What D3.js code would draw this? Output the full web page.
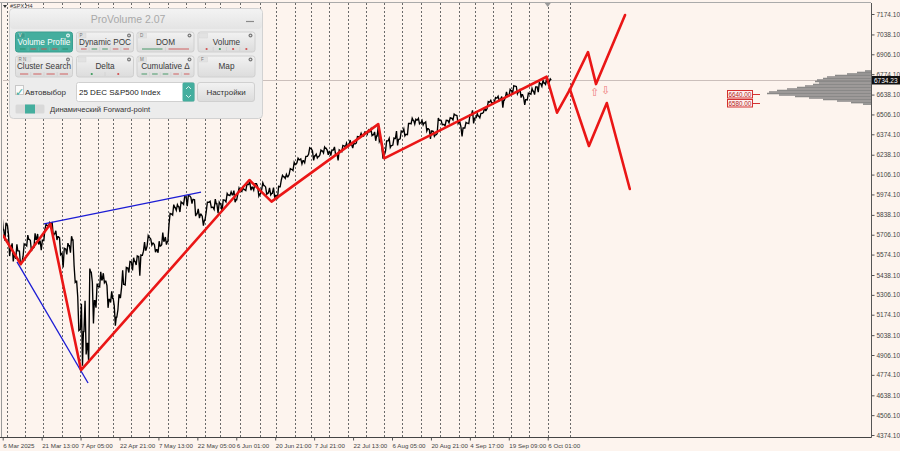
<!DOCTYPE html>
<html><head><meta charset="utf-8">
<script src="https://cdn.jsdelivr.net/npm/d3@7"></script>
<style>
html,body{margin:0;padding:0;background:#fdf4ee;}
svg{display:block;}
text{font-family:"Liberation Sans",Arial,sans-serif;}
</style></head><body>
<svg id="c" width="900" height="451"></svg>
<script>
// ---------- DATA ----------
const dates = ["03-06","03-07","03-10","03-11","03-12","03-13","03-14","03-17","03-18","03-19","03-20","03-21","03-24","03-25","03-26","03-27","03-28","03-31",
"04-01","04-02","04-03","04-04","04-07","04-08","04-09","04-10","04-11","04-14","04-15","04-16","04-17","04-21","04-22","04-23","04-24","04-25","04-28","04-29","04-30",
"05-01","05-02","05-05","05-06","05-07","05-08","05-09","05-12","05-13","05-14","05-15","05-16","05-19","05-20","05-21","05-22","05-23","05-27","05-28","05-29","05-30",
"06-02","06-03","06-04","06-05","06-06","06-09","06-10","06-11","06-12","06-13","06-16","06-17","06-18","06-20","06-23","06-24","06-25","06-26","06-27","06-30",
"07-01","07-02","07-03","07-07","07-08","07-09","07-10","07-11","07-14","07-15","07-16","07-17","07-18","07-21","07-22","07-23","07-24","07-25","07-28","07-29","07-30","07-31",
"08-01","08-04","08-05","08-06","08-07","08-08","08-11","08-12","08-13","08-14","08-15","08-18","08-19","08-20","08-21","08-22","08-25","08-26","08-27","08-28","08-29",
"09-02","09-03","09-04","09-05","09-08","09-09","09-10","09-11","09-12","09-15","09-16","09-17","09-18","09-19","09-22","09-23","09-24","09-25","09-26","09-29","09-30",
"10-01","10-02","10-03","10-06"];
const highs = [5812,5786,5705,5649,5642,5597,5645,5703,5669,5715,5711,5670,5775,5787,5784,5732,5685,5616,
5650,5696,5500,5292,5247,5267,5481,5390,5381,5460,5450,5367,5329,5233,5310,5469,5489,5528,5553,5565,5571,
5658,5700,5678,5640,5663,5721,5691,5848,5906,5906,5924,5959,5968,5954,5939,5878,5829,5922,5929,5943,5923,
5938,5981,5991,5999,6016,6021,6043,6059,6045,6026,6051,6024,6018,6019,6028,6101,6108,6146,6187,6215,
6211,6227,6284,6263,6242,6269,6290,6269,6270,6290,6270,6300,6315,6336,6316,6360,6381,6390,6401,6409,6390,6427,
6288,6330,6347,6349,6395,6395,6410,6446,6481,6474,6481,6466,6456,6404,6394,6482,6467,6467,6484,6508,6499,
6425,6453,6503,6533,6511,6513,6555,6592,6600,6619,6627,6625,6656,6672,6697,6692,6676,6618,6648,6679,6689,
6718,6733,6750,6742];
const lows = [5711,5666,5564,5528,5546,5505,5563,5631,5597,5622,5641,5603,5741,5764,5696,5671,5573,5489,
5575,5587,5390,5069,4835,4910,4857,5116,5221,5359,5387,5220,5256,5101,5207,5356,5372,5455,5469,5505,5433,
5597,5631,5637,5590,5586,5639,5640,5775,5837,5868,5857,5908,5896,5913,5830,5817,5767,5856,5887,5874,5849,
5861,5924,5966,5922,5978,5993,6000,6002,6003,5963,6004,5975,5971,5952,5943,6070,6081,6106,6133,6183,
6177,6184,6241,6201,6217,6237,6250,6237,6232,6241,6201,6258,6288,6303,6282,6317,6360,6363,6375,6365,6331,6326,
6212,6262,6287,6302,6300,6344,6364,6372,6443,6442,6444,6436,6396,6343,6360,6378,6438,6430,6451,6469,6446,
6360,6416,6445,6446,6484,6484,6520,6545,6579,6591,6598,6551,6620,6632,6651,6643,6618,6570,6603,6640,6638,
6655,6693,6706,6722];
const closes = [5738,5770,5615,5572,5599,5522,5639,5675,5615,5675,5663,5668,5768,5777,5712,5693,5581,5612,
5633,5671,5397,5074,5062,4983,5457,5268,5363,5406,5397,5276,5283,5158,5288,5376,5485,5525,5529,5561,5569,
5604,5687,5650,5607,5631,5664,5660,5844,5887,5893,5917,5958,5964,5941,5845,5842,5803,5922,5889,5912,5912,
5936,5970,5971,5939,6000,6006,6039,6022,6045,5977,6033,5983,5981,5968,6025,6092,6092,6141,6173,6205,
6198,6227,6279,6230,6226,6263,6281,6260,6269,6244,6264,6297,6297,6306,6310,6359,6363,6389,6390,6371,6363,6339,
6238,6330,6299,6345,6340,6390,6374,6446,6467,6469,6450,6449,6411,6396,6370,6467,6439,6466,6481,6502,6460,
6416,6448,6502,6482,6495,6513,6532,6588,6584,6615,6607,6600,6632,6664,6694,6657,6638,6605,6644,6661,6689,
6711,6715,6716,6734.23];

const timeTickLabels = ["6 Mar 2025","21 Mar 13:00","7 Apr 05:00","22 Apr 21:00","7 May 13:00","22 May 05:00","6 Jun 01:00",
"20 Jun 21:00","7 Jul 21:00","22 Jul 13:00","6 Aug 05:00","20 Aug 21:00","4 Sep 17:00","19 Sep 09:00","6 Oct 01:00"];
const timeTickDays = [0.8,11.5,22.17,32.83,43.5,54.17,64,73.83,83.83,94.5,105.17,115.83,125.67,136.33,147];
const priceTicks = [7174.10,7038.10,6906.10,6774.10,6638.10,6506.10,6374.10,6238.10,6106.10,5974.10,5838.10,
5706.10,5574.10,5438.10,5306.10,5174.10,5038.10,4906.10,4774.10,4638.10,4506.10,4374.10];
const separatorDays = [2,7,12,17,22,27,31,36,41,46,51,56,60,65,70,74,79,83,88,93,98,103,108,113,118,123,127,132,137,142,147,153];

const zigzagMain = [[0.96,5700],[5.75,5511],[13.9,5778],[22.3,4806],[67.3,6070],[72.9,5926],[101.4,6442],[103.05,6214],[146.7,6757],[149.55,6518],[153.1,6673]];
const zigzagUp = [[153.1,6673],[158.04,6921],[160.24,6708],[168.2,7167]];
const zigzagDown = [[153.1,6673],[158.3,6296],[163.2,6582],[169.5,6010]];
const blueUpper = [[12.16,5778],[55.1,5990]];
const blueLower = [[4.73,5525],[24.22,4720]];
const lastPrice = 6734.23;
const levelPrices = [6640.00, 6580.00];
const arrowMarks = [{day:159.9, price:6628, dir:"up"},{day:162.7, price:6642, dir:"down"}];
const profilePrices = [6795,6785,6775,6765,6755,6745,6735,6725,6715,6705,6695,6685,6675,6665,6655,6645,6635,6625,6615,6605,6595,6585,6575];
const profileVolumes = [6,14,24,36,44,48,54,56,52,58,66,74,84,94,102,104,92,76,62,48,34,20,8];

// ---------- SETUP ----------
const svg = d3.select('#c');
const W = 900, H = 451;
const plot = {left:3, right:871, top:3, bottom:437};
const x = d3.scaleLinear().domain(timeTickDays).range(timeTickDays.map((d,i)=>2.7 + 38.93*i));
const y = d3.scaleLinear().domain([4374.1, 7174.1]).range([435, 14]);
const vx = d3.scaleLinear().domain([0, 100]).range([0, 100]);

svg.append('rect').attr('width',W).attr('height',H).attr('fill','#fdf4ee');
const defs = svg.append('defs');
defs.append('clipPath').attr('id','pc').append('rect')
  .attr('x',plot.left).attr('y',plot.top).attr('width',plot.right-plot.left).attr('height',plot.bottom-plot.top);

// separators
svg.append('g').selectAll('line').data(separatorDays).join('line')
  .attr('x1',d=>Math.round(x(d))+0.5).attr('x2',d=>Math.round(x(d))+0.5)
  .attr('y1',plot.top).attr('y2',plot.bottom)
  .attr('stroke','#6a6a6a').attr('stroke-width',1).attr('stroke-dasharray','2,2');

// last price line
svg.append('line').attr('x1',plot.left).attr('x2',plot.right)
  .attr('y1',Math.round(y(lastPrice))+0.5).attr('y2',Math.round(y(lastPrice))+0.5)
  .attr('stroke','#cbbfbb').attr('stroke-width',1);

// volume profile
svg.append('g').selectAll('line').data(profilePrices).join('line')
  .attr('x1',(d,i)=>plot.right - vx(profileVolumes[i])).attr('x2',plot.right)
  .attr('y1',d=>y(d)).attr('y2',d=>y(d))
  .attr('stroke','#7e7e7e').attr('stroke-width',1.6).attr('opacity',0.9);

// level boxes
const lv = svg.append('g');
levelPrices.forEach(p=>{
  const yy = Math.round(y(p));
  lv.append('rect').attr('x',727.5).attr('y',yy-3.5).attr('width',25).attr('height',7.5)
    .attr('fill','#fff0ee').attr('stroke','#d43030').attr('stroke-width',1);
  lv.append('text').attr('x',740).attr('y',yy+2.5).attr('text-anchor','middle')
    .attr('font-size',6.3).attr('fill','#b02020').text(p.toFixed(2));
  lv.append('line').attr('x1',753).attr('x2',760).attr('y1',yy+0.5).attr('y2',yy+0.5)
    .attr('stroke','#d43030').attr('stroke-width',1);
});

// price path
const pts = [];
closes.forEach((c,i)=>{
  const o = i ? closes[i-1] : c;
  const up = c >= o;
  pts.push([i+0.1, o]);
  pts.push([i+0.4, up ? lows[i] : highs[i]]);
  pts.push([i+0.7, up ? highs[i] : lows[i]]);
  pts.push([i+0.95, c]);
});
const line = d3.line().x(p=>x(p[0])).y(p=>y(p[1]));
svg.append('path').attr('clip-path','url(#pc)').datum(pts).attr('d',line)
  .attr('fill','none').attr('stroke','#000').attr('stroke-width',1.35).attr('stroke-linejoin','miter');

// blue lines
[blueUpper, blueLower].forEach(b=>{
  svg.append('path').datum(b).attr('d',line).attr('fill','none')
    .attr('stroke','#1c1cd4').attr('stroke-width',1.3);
});
// red zigzags
[zigzagMain, zigzagUp, zigzagDown].forEach(z=>{
  svg.append('path').attr('clip-path','url(#pc)').datum(z).attr('d',line).attr('fill','none')
    .attr('stroke','#ea1616').attr('stroke-width',2.6).attr('stroke-linejoin','round').attr('stroke-linecap','round');
});
// arrows
svg.append('g').selectAll('text').data(arrowMarks).join('text')
  .attr('x',d=>x(d.day)).attr('y',d=>y(d.price)).attr('text-anchor','middle')
  .attr('font-family','DejaVu Sans').attr('font-size',11).attr('fill','#ef7b7b')
  .text(d=>d.dir==='up' ? '\u21E7' : '\u21E9');

// axes lines
svg.append('line').attr('x1',plot.right+0.5).attr('x2',plot.right+0.5).attr('y1',plot.top).attr('y2',plot.bottom+0.5)
  .attr('stroke','#555');
svg.append('line').attr('x1',0).attr('x2',plot.right+0.5).attr('y1',plot.bottom+0.5).attr('y2',plot.bottom+0.5)
  .attr('stroke','#444');
svg.append('line').attr('x1',1.5).attr('x2',1.5).attr('y1',plot.top).attr('y2',plot.bottom)
  .attr('stroke','#999');
svg.append('line').attr('x1',0).attr('x2',plot.right).attr('y1',2.5).attr('y2',2.5)
  .attr('stroke','#aaa');

// price axis
const ya = svg.append('g').attr('transform',`translate(${plot.right+0.5},0)`)
  .call(d3.axisRight(y).tickValues(priceTicks).tickFormat(d3.format('.2f')).tickSize(3).tickPadding(2));
ya.select('.domain').remove();
ya.selectAll('line').attr('stroke','#555');
ya.selectAll('text').attr('font-size',6.5).attr('fill','#444').attr('font-family','"Liberation Sans",Arial,sans-serif');

// time axis
const xa = svg.append('g').attr('transform',`translate(0,${plot.bottom+0.5})`)
  .call(d3.axisBottom(x).tickValues(timeTickDays).tickFormat((d,i)=>timeTickLabels[i]).tickSize(3).tickPadding(3));
xa.select('.domain').remove();
xa.selectAll('line').attr('stroke','#555');
xa.selectAll('text').attr('text-anchor','start').attr('dx',0).attr('font-size',6.2).attr('fill','#444')
  .attr('font-family','"Liberation Sans",Arial,sans-serif');

// last price box
const lp = Math.round(y(lastPrice));
svg.append('rect').attr('x',plot.right+1).attr('y',lp-4).attr('width',28).attr('height',8.5).attr('fill','#111');
svg.append('text').attr('x',plot.right+3).attr('y',lp+2.6).attr('font-size',6.5).attr('fill','#fff').text(lastPrice.toFixed(2));

// shift marker
svg.append('path').attr('d',`M${x(147)-3},3 L${x(147)+3},3 L${x(147)},7 Z`).attr('fill','#999');

// symbol label
svg.append('path').attr('d','M3,5 L7,5 L5,8 Z').attr('fill','#333');
svg.append('text').attr('x',10).attr('y',8).attr('font-size',5.5).attr('fill','#333').text('#SPX,H4');

// ---------- PANEL ----------
const teal = '#44ae9e';
const pg = defs.append('linearGradient').attr('id','btn').attr('x1',0).attr('x2',0).attr('y1',0).attr('y2',1);
pg.append('stop').attr('offset','0%').attr('stop-color','#f2f2f2');
pg.append('stop').attr('offset','100%').attr('stop-color','#dcdcdc');
const tg = defs.append('linearGradient').attr('id','ttl').attr('x1',0).attr('x2',0).attr('y1',0).attr('y2',1);
tg.append('stop').attr('offset','0%').attr('stop-color','#f3f3f3');
tg.append('stop').attr('offset','100%').attr('stop-color','#e4e4e4');

const panel = svg.append('g');
panel.append('rect').attr('x',9.5).attr('y',8.5).attr('width',253).attr('height',110).attr('rx',4)
  .attr('fill','#ececec').attr('stroke','#d2d2d2');
panel.append('rect').attr('x',10).attr('y',9).attr('width',252).attr('height',20).attr('rx',4)
  .attr('fill','url(#ttl)');
panel.append('text').attr('x',128).attr('y',23).attr('text-anchor','middle').attr('font-size',10.5)
  .attr('fill','#a9a9a9').text('ProVolume 2.07');
panel.append('line').attr('x1',246).attr('x2',254).attr('y1',21.5).attr('y2',21.5).attr('stroke','#8a8a8a').attr('stroke-width',1.2);

const buttons = [
  {x:15,y:31.5,h:20,label:'Volume Profile',tag:'V',active:true,marks:[['#2f8f6f','seg'],['#c85050','seg'],['#c85050','seg'],['#c85050','seg'],['#2f8f6f','seg']]},
  {x:76,y:31.5,h:20,label:'Dynamic POC',tag:'P',marks:[['#d06060','seg'],['#4a9a6a','seg'],['#4a9a6a','seg'],['#d06060','seg'],['#d06060','seg']]},
  {x:136.5,y:31.5,h:20,label:'DOM',tag:'D',marks:[['#4a9a6a','long'],['#d06060','long']]},
  {x:197.5,y:31.5,h:20,label:'Volume',tag:'',marks:[['#d05050','dot'],['#3a9a5a','dot'],['#d05050','dot'],['#d05050','dot']]},
  {x:15,y:55.5,h:21,label:'Cluster Search',tag:'R  N',marks:[['#d06060','seg'],['#d06060','seg'],['#d06060','seg'],['#d06060','seg']]},
  {x:76,y:55.5,h:21,label:'Delta',tag:'',marks:[['#3a9a5a','dot'],['#d05050','dot']]},
  {x:136.5,y:55.5,h:21,label:'Cumulative \u0394',tag:'M',marks:[['#4a9a6a','seg'],['#4a9a6a','seg'],['#4a9a6a','seg'],['#d06060','seg'],['#d06060','seg']]},
  {x:197.5,y:55.5,h:21,label:'Map',tag:'F',marks:[]}
];
const bw = 57;
buttons.forEach(b=>{
  const g = panel.append('g');
  g.append('rect').attr('x',b.x+0.5).attr('y',b.y+0.5).attr('width',bw).attr('height',b.h).attr('rx',2.5)
    .attr('fill',b.active?teal:'url(#btn)').attr('stroke',b.active?'#3a9e8f':'#d0d0d0');
  g.append('text').attr('x',b.x+bw/2+0.5).attr('y',b.y+13).attr('text-anchor','middle')
    .attr('font-size',8.2).attr('fill',b.active?'#ffffff':'#3a3a3a').text(b.label);
  g.append('rect').attr('x',b.x+2).attr('y',b.y+1.5).attr('width',b.tag.length>1?14:8).attr('height',5)
    .attr('fill',b.active?'#3c9c8e':'#e2e2e2').attr('stroke',b.active?'#5fbfb0':'#d6d6d6').attr('stroke-width',0.5);
  g.append('text').attr('x',b.x+3.5).attr('y',b.y+5.8).attr('font-size',4.5).attr('fill',b.active?'#e8f8f5':'#777').text(b.tag);
  g.append('circle').attr('cx',b.x+bw-4).attr('cy',b.y+4).attr('r',2).attr('fill',b.active?'#e0f2ef':'#7a7a7a');
  g.append('circle').attr('cx',b.x+bw-4).attr('cy',b.y+4).attr('r',0.8).attr('fill',b.active?teal:'#e8e8e8');
  const n = b.marks.length;
  if(n){
    const yy = b.y + b.h - 2.5;
    const slot = (bw-4)/n;
    b.marks.forEach((m,k)=>{
      const cx = b.x + 2.5 + slot*k + slot/2;
      if(m[1]==='dot') g.append('circle').attr('cx',cx).attr('cy',yy).attr('r',1.1).attr('fill',m[0]);
      else {
        const half = m[1]==='long' ? slot/2-3 : slot/2-2.5;
        g.append('line').attr('x1',cx-half).attr('x2',cx+half).attr('y1',yy).attr('y2',yy)
          .attr('stroke',m[0]).attr('stroke-width',1);
      }
      if(k>0) g.append('line').attr('x1',b.x+2.5+slot*k).attr('x2',b.x+2.5+slot*k).attr('y1',yy-2).attr('y2',yy+2)
        .attr('stroke',b.active?'#5fbfb0':'#cfcfcf').attr('stroke-width',0.6);
    });
  }
});

panel.append('rect').attr('x',15.5).attr('y',85.5).attr('width',8).attr('height',9).attr('fill','#fafafa').attr('stroke','#c8c8c8');
panel.append('text').attr('x',14.5).attr('y',95.5).attr('font-family','DejaVu Sans').attr('font-size',11).attr('fill',teal).text('\u2713');
panel.append('text').attr('x',25).attr('y',94.5).attr('font-size',8).attr('fill','#333').text('Автовыбор');
panel.append('rect').attr('x',76.5).attr('y',82.5).attr('width',118).attr('height',19).attr('rx',2)
  .attr('fill','#ffffff').attr('stroke','#d0d0d0');
panel.append('rect').attr('x',182.5).attr('y',82.5).attr('width',12).attr('height',19).attr('rx',1.5).attr('fill',teal);
panel.append('path').attr('d','M186,89 L188.5,86.5 L191,89 M186,95 L188.5,97.5 L191,95').attr('fill','none')
  .attr('stroke','#e6f6f3').attr('stroke-width',0.9);
panel.append('text').attr('x',79).attr('y',95).attr('font-size',8).attr('fill','#222').text('25 DEC S&P500 Index');
panel.append('rect').attr('x',197.5).attr('y',82.5).attr('width',57).attr('height',19).attr('rx',2.5)
  .attr('fill','url(#btn)').attr('stroke','#d0d0d0');
panel.append('text').attr('x',226).attr('y',95).attr('text-anchor','middle').attr('font-size',8).attr('fill','#333').text('Настройки');
panel.append('rect').attr('x',15.5).attr('y',104.5).attr('width',29).attr('height',9).attr('rx',1.5).attr('fill','#d9d9d9');
panel.append('rect').attr('x',25).attr('y',104.5).attr('width',10).attr('height',9).attr('fill',teal);
panel.append('text').attr('x',50).attr('y',112).attr('font-size',7.6).attr('fill','#333').text('Динамический Forward-point');
</script>
</body></html>
